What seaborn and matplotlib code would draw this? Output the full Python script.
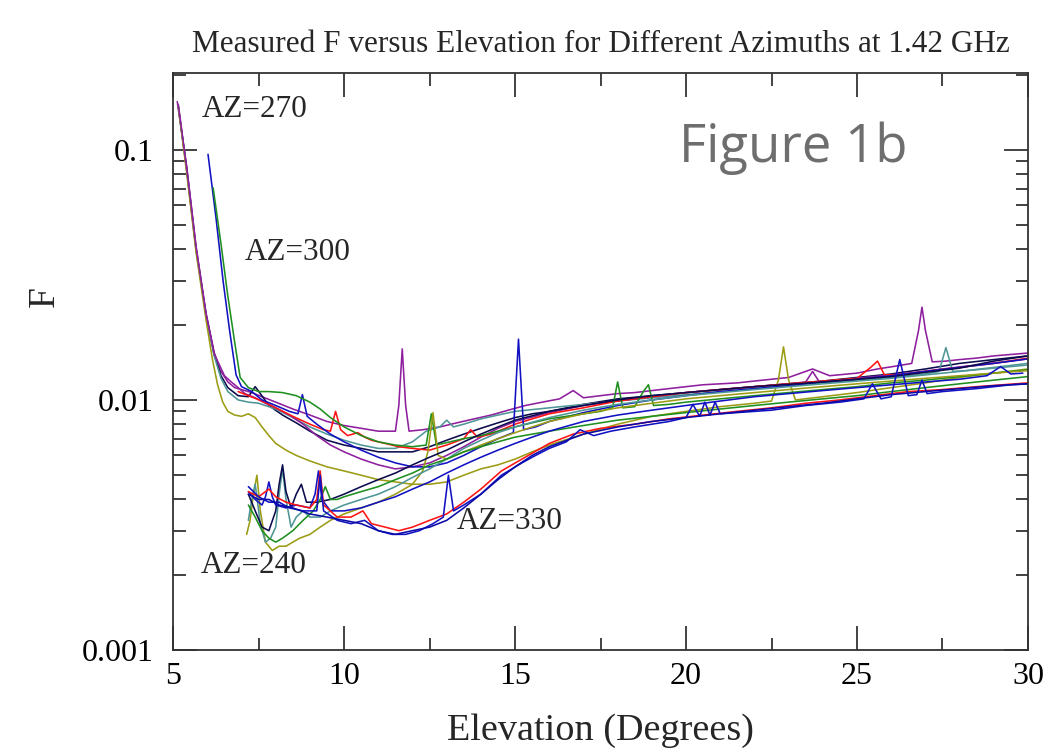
import pandas as pd
import numpy as np

import seaborn as sns
import matplotlib.pyplot as plt
from matplotlib.ticker import MultipleLocator, FuncFormatter, LogLocator

# ---- data (elevation in degrees, F) ----
# AZ=270 family (steep start near 5 deg)
purple_a_x = [5.12, 5.4, 5.67, 5.96, 6.2, 6.37, 6.6, 6.8, 7.0, 7.3, 7.6, 8.0, 8.5, 9.0, 9.5, 10.0, 10.5, 11.0, 11.5,
              11.6, 11.7, 11.8, 11.9, 12.3, 12.8, 13.3, 13.8, 14.3, 14.8, 15.3, 15.8, 16.3, 16.7, 17.0, 17.5, 18.0,
              18.5, 19.0, 19.5, 20.0, 20.5, 21.0, 21.5, 22.0, 22.5, 23.0, 23.7, 24.2, 25.0, 25.6, 26.2, 26.6, 26.8,
              26.9, 27.0, 27.2, 27.6, 28.0, 28.5, 29.0, 29.5, 30.0]
purple_a_f = [0.156, 0.085, 0.041, 0.0223, 0.0155, 0.0132, 0.0118, 0.0112, 0.0110, 0.0107, 0.0103, 0.0098, 0.0092,
              0.0087, 0.0082, 0.0079, 0.0077, 0.0075, 0.0075, 0.0095, 0.016, 0.0095, 0.0075, 0.0076, 0.0078, 0.0081,
              0.0084, 0.0087, 0.0091, 0.0095, 0.0098, 0.0101, 0.0109, 0.0102, 0.0104, 0.0106, 0.0107, 0.0109,
              0.0111, 0.0113, 0.0115, 0.0116, 0.0117, 0.0119, 0.0121, 0.0123, 0.0133, 0.0125, 0.0128, 0.0133,
              0.0137, 0.0140, 0.019, 0.0235, 0.019, 0.0142, 0.0143, 0.0145, 0.0147, 0.0150, 0.0152, 0.0154]

navy_a_x = [5.15, 5.4, 5.67, 5.96, 6.2, 6.4, 6.6, 6.9, 7.2, 7.4, 7.55, 7.8, 8.2, 8.6, 9.0, 9.5, 10.0, 10.5, 11.0,
            11.5, 12.0, 12.5, 13.0, 13.5, 14.0, 14.5, 15.0, 15.5, 16.0, 17.0, 18.0, 19.0, 20.0, 21.0, 22.0, 23.0,
            24.0, 25.0, 26.0, 27.0, 28.0, 29.0, 30.0]
navy_a_f = [0.15, 0.083, 0.04, 0.022, 0.0152, 0.0125, 0.0112, 0.0104, 0.0103, 0.0113, 0.0106, 0.0095, 0.0087,
            0.0081, 0.0075, 0.0069, 0.0066, 0.0064, 0.0062, 0.0062, 0.0062, 0.0065, 0.0069, 0.0073, 0.0077, 0.0081,
            0.0085, 0.0088, 0.0090, 0.0096, 0.0101, 0.0104, 0.0107, 0.0110, 0.0113, 0.0116, 0.0119, 0.0123,
            0.0127, 0.0133, 0.0140, 0.0145, 0.0150]

teal_a_x = [5.15, 5.4, 5.67, 5.96, 6.2, 6.4, 6.6, 6.9, 7.2, 7.5, 8.0, 8.5, 9.0, 9.5, 10.0, 10.5, 11.0, 11.5, 12.0,
            12.4, 12.8, 13.0, 13.2, 13.5, 14.0, 14.5, 15.0, 16.0, 17.0, 18.0, 19.0, 20.0, 21.0, 22.0, 23.0, 24.0,
            25.0, 26.0, 27.0, 27.4, 27.6, 27.8, 28.2, 29.0, 30.0]
teal_a_f = [0.15, 0.082, 0.04, 0.0218, 0.015, 0.0122, 0.0108, 0.0100, 0.0098, 0.0097, 0.0092, 0.0085, 0.0078,
            0.0073, 0.0069, 0.0066, 0.0064, 0.0064, 0.0068, 0.0075, 0.0078, 0.0083, 0.0078, 0.0080, 0.0084, 0.0087,
            0.0090, 0.0093, 0.0096, 0.0099, 0.0102, 0.0105, 0.0108, 0.0111, 0.0114, 0.0117, 0.0120, 0.0123,
            0.0127, 0.0130, 0.0162, 0.0130, 0.0131, 0.0134, 0.0138]

olive_a_x = [5.15, 5.4, 5.67, 5.96, 6.15, 6.3, 6.45, 6.6, 6.8, 7.0, 7.2, 7.4, 7.6, 7.8, 8.0, 8.3, 8.6, 9.0, 9.5,
             10.0, 10.5, 11.0, 11.5, 12.0, 12.5, 13.0, 13.5, 14.0, 14.5, 15.0, 15.5, 16.0, 17.0, 18.0, 19.0, 20.0,
             21.0, 22.0, 22.5, 22.7, 22.85, 23.0, 23.2, 24.0, 25.0, 26.0, 27.0, 28.0, 29.0, 30.0]
olive_a_f = [0.15, 0.08, 0.039, 0.021, 0.0145, 0.0115, 0.0098, 0.0090, 0.0087, 0.0086, 0.0088, 0.0085, 0.0078,
             0.0072, 0.0067, 0.0063, 0.0060, 0.0057, 0.0054, 0.0052, 0.0050, 0.0048, 0.0047, 0.0046, 0.0046,
             0.0047, 0.0050, 0.0053, 0.0055, 0.0058, 0.0062, 0.0066, 0.0073, 0.0080, 0.0086, 0.0090, 0.0094,
             0.0097, 0.0099, 0.0120, 0.0163, 0.0120, 0.0100, 0.0103, 0.0107, 0.0112, 0.0117, 0.0123, 0.0128, 0.0133]

purple_b_x = [5.15, 5.4, 5.67, 5.96, 6.2, 6.5, 6.7, 6.9, 7.1, 7.4, 7.7, 8.0, 8.4, 8.8, 9.2, 9.6, 10.0, 10.5, 11.0,
              11.5, 12.0, 12.5, 13.0, 13.5, 14.0, 14.5, 15.0, 16.0, 17.0, 18.0, 19.0, 20.0, 21.0, 22.0, 23.0, 23.5,
              23.7, 23.9, 24.5, 25.5, 26.5, 27.5, 28.5, 29.5, 30.0]
purple_b_f = [0.152, 0.084, 0.041, 0.0222, 0.0153, 0.0125, 0.0118, 0.0112, 0.0106, 0.0102, 0.0097, 0.0093,
              0.0087, 0.0080, 0.0072, 0.0066, 0.0062, 0.0058, 0.0055, 0.0053, 0.0054, 0.0056, 0.0060, 0.0065,
              0.0071, 0.0077, 0.0082, 0.0089, 0.0095, 0.0099, 0.0103, 0.0107, 0.0110, 0.0113, 0.0116, 0.0118,
              0.0130, 0.0118, 0.0120, 0.0124, 0.0128, 0.0133, 0.0138, 0.0143, 0.0146]

red_a_x = [6.9, 7.2, 7.6, 8.0, 8.5, 9.0, 9.4, 9.6, 9.75, 9.9, 10.1, 10.4, 10.6, 10.8, 11.2, 11.6, 12.0, 12.5, 13.0,
           13.5, 13.7, 13.9, 14.3, 15.0, 15.5, 16.0, 17.0, 18.0, 19.0, 20.0, 21.0, 22.0, 23.0, 24.0, 25.0, 25.4,
           25.6, 25.8, 26.2, 27.0, 28.0, 29.0, 30.0]
red_a_f = [0.0108, 0.0104, 0.0099, 0.0093, 0.0086, 0.0080, 0.0076, 0.0075, 0.0090, 0.0076, 0.0072, 0.0074, 0.0071,
           0.0069, 0.0067, 0.0065, 0.0064, 0.0063, 0.0066, 0.0070, 0.0076, 0.0071, 0.0073, 0.0080, 0.0084, 0.0088,
           0.0093, 0.0099, 0.0103, 0.0107, 0.0110, 0.0113, 0.0116, 0.0119, 0.0122, 0.0135, 0.0143, 0.0126,
           0.0126, 0.0130, 0.0135, 0.0140, 0.0147]

# AZ=300 family
blue_a_x = [6.02, 6.25, 6.46, 6.65, 6.84, 7.0, 7.3, 7.6, 8.0, 8.4, 8.65, 8.78, 8.92, 9.2, 9.6, 10.0, 10.5, 11.0,
            11.5, 12.0, 12.5, 13.0, 13.5, 14.0, 14.5, 14.95, 15.1, 15.25, 15.6, 16.0, 17.0, 18.0, 19.0, 20.0, 21.0,
            22.0, 23.0, 24.0, 25.0, 26.0, 27.0, 28.0, 29.0, 30.0]
blue_a_f = [0.096, 0.054, 0.030, 0.019, 0.0126, 0.0113, 0.0108, 0.0100, 0.0095, 0.0090, 0.0088, 0.0105, 0.0086,
            0.0080, 0.0073, 0.0068, 0.0063, 0.0059, 0.0056, 0.0054, 0.0054, 0.0056, 0.0060, 0.0065, 0.0070, 0.0074,
            0.0175, 0.0076, 0.0078, 0.0082, 0.0089, 0.0095, 0.0100, 0.0104, 0.0108, 0.0111, 0.0114, 0.0118,
            0.0121, 0.0125, 0.0130, 0.0135, 0.0140, 0.0146]

green_a_x = [6.17, 6.4, 6.6, 6.8, 6.96, 7.2, 7.5, 7.8, 8.2, 8.6, 9.0, 9.3, 9.6, 10.0, 10.5, 11.0, 11.5, 12.0, 12.4,
             12.55, 12.7, 12.9, 13.5, 14.0, 14.5, 15.0, 15.5, 16.0, 16.5, 17.0, 17.5, 17.85, 18.0, 18.15, 18.5,
             18.75, 18.9, 19.05, 19.5, 20.0, 21.0, 22.0, 23.0, 24.0, 25.0, 26.0, 27.0, 28.0, 29.0, 30.0]
green_a_f = [0.0705, 0.042, 0.026, 0.017, 0.0123, 0.0112, 0.0108, 0.0108, 0.0107, 0.0104, 0.0098, 0.0092, 0.0085,
             0.0078, 0.0072, 0.0068, 0.0066, 0.0065, 0.0066, 0.0088, 0.0066, 0.0067, 0.0070, 0.0072, 0.0075,
             0.0078, 0.0081, 0.0084, 0.0086, 0.0088, 0.0090, 0.0093, 0.0118, 0.0093, 0.0094, 0.0108, 0.0115,
             0.0095, 0.0096, 0.0098, 0.0101, 0.0104, 0.0107, 0.0110, 0.0113, 0.0117, 0.0120, 0.0124, 0.0128, 0.0132]

# AZ=240 family (starts near 7 deg, low and spiky)
olive_b_x = [7.15, 7.25, 7.35, 7.45, 7.55, 7.7, 7.9, 8.1, 8.3, 8.5, 8.7, 9.0, 9.3, 9.6, 10.0, 10.5, 11.0, 11.5,
             12.0, 12.3, 12.45, 12.6, 12.75, 13.0, 13.5, 14.0, 14.5, 15.0, 15.5, 16.0, 17.0, 18.0, 19.0, 20.0, 21.0,
             22.0, 23.0, 24.0, 25.0, 26.0, 27.0, 28.0, 29.0, 30.0]
olive_b_f = [0.0029, 0.0033, 0.0042, 0.0050, 0.0036, 0.0027, 0.0025, 0.0026, 0.0026, 0.0027, 0.0028, 0.0029,
             0.0031, 0.0033, 0.0035, 0.0037, 0.0039, 0.0042, 0.0046, 0.0052, 0.0062, 0.0089, 0.0060, 0.0058,
             0.0062, 0.0066, 0.0070, 0.0074, 0.0078, 0.0082, 0.0088, 0.0093, 0.0097, 0.0101, 0.0104, 0.0107,
             0.0110, 0.0113, 0.0116, 0.0119, 0.0122, 0.0125, 0.0128, 0.0131]

teal_b_x = [7.2, 7.3, 7.4, 7.55, 7.7, 7.85, 8.0, 8.1, 8.2, 8.3, 8.45, 8.6, 8.8, 9.0, 9.3, 9.6, 10.0, 10.5, 11.0,
            11.5, 12.0, 12.5, 13.0, 13.5, 14.0, 14.5, 15.0, 16.0, 17.0, 18.0, 19.0, 20.0, 22.0, 24.0, 26.0, 28.0, 30.0]
teal_b_f = [0.0033, 0.0040, 0.0046, 0.0032, 0.0027, 0.0028, 0.0031, 0.0042, 0.0053, 0.0040, 0.0031, 0.0034,
            0.0036, 0.0034, 0.0034, 0.0036, 0.0038, 0.0040, 0.0042, 0.0045, 0.0049, 0.0053, 0.0058, 0.0064, 0.0069,
            0.0074, 0.0078, 0.0085, 0.0091, 0.0096, 0.0100, 0.0104, 0.0110, 0.0116, 0.0122, 0.0130, 0.0140]

navy_b_x = [7.2, 7.4, 7.6, 7.8, 8.0, 8.1, 8.2, 8.3, 8.45, 8.6, 8.75, 8.9, 9.2, 9.6, 10.0, 10.5, 11.0, 11.5, 12.0,
            12.5, 13.0, 13.5, 14.0, 14.5, 15.0, 16.0, 17.0, 18.0, 19.0, 20.0, 22.0, 24.0, 26.0, 28.0, 29.0, 30.0]
navy_b_f = [0.0042, 0.0036, 0.0031, 0.0030, 0.0036, 0.0046, 0.0055, 0.0043, 0.0037, 0.0042, 0.0046, 0.0039,
            0.0039, 0.0040, 0.0042, 0.0045, 0.0048, 0.0051, 0.0055, 0.0059, 0.0063, 0.0068, 0.0073, 0.0078, 0.0083,
            0.0090, 0.0095, 0.0100, 0.0104, 0.0107, 0.0113, 0.0118, 0.0124, 0.0134, 0.0143, 0.0150]

green_b_x = [7.2, 7.4, 7.6, 7.8, 8.0, 8.2, 8.5, 8.8, 9.1, 9.3, 9.45, 9.6, 9.8, 10.0, 10.5, 11.0, 11.5, 12.0, 12.5,
             13.0, 13.5, 14.0, 14.5, 15.0, 16.0, 17.0, 18.0, 19.0, 20.0, 21.0, 22.0, 23.0, 24.0, 25.0, 26.0, 27.0,
             28.0, 29.0, 30.0]
green_b_f = [0.0038, 0.0034, 0.0030, 0.0028, 0.0027, 0.0028, 0.0030, 0.0033, 0.0036, 0.0040, 0.0045, 0.0040,
             0.0040, 0.0041, 0.0043, 0.0045, 0.0048, 0.0051, 0.0055, 0.0058, 0.0062, 0.0065, 0.0068, 0.0071,
             0.0075, 0.0079, 0.0083, 0.0086, 0.0089, 0.0092, 0.0095, 0.0098, 0.0101, 0.0104, 0.0108, 0.0112,
             0.0116, 0.0120, 0.0124]

blue_b_x = [7.2, 7.4, 7.6, 7.7, 7.8, 7.9, 8.0, 8.3, 8.6, 9.0, 9.15, 9.25, 9.35, 9.6, 10.0, 10.5, 11.0, 11.5, 12.0,
            12.5, 13.0, 13.5, 14.0, 14.5, 15.0, 15.5, 16.0, 17.0, 18.0, 19.0, 20.0, 21.0, 22.0, 23.0, 24.0, 25.0,
            26.0, 27.0, 28.0, 28.8, 29.2, 29.5, 29.85]
blue_b_f = [0.0043, 0.0040, 0.0038, 0.0041, 0.0047, 0.0041, 0.0038, 0.0037, 0.0038, 0.0037, 0.0042, 0.0052, 0.0040,
            0.0036, 0.0036, 0.0037, 0.0039, 0.0041, 0.0044, 0.0047, 0.0051, 0.0055, 0.0059, 0.0063, 0.0067, 0.0071,
            0.0075, 0.0082, 0.0087, 0.0091, 0.0095, 0.0099, 0.0103, 0.0106, 0.0109, 0.0112, 0.0115, 0.0118,
            0.0121, 0.0125, 0.0136, 0.0127, 0.0128]

# AZ=330 family (lowest curves)
red_b_x = [7.2, 7.5, 7.8, 8.0, 8.3, 8.6, 9.0, 9.2, 9.3, 9.4, 9.8, 10.2, 10.55, 10.8, 11.2, 11.6, 12.0, 12.5, 13.0,
           13.5, 14.0, 14.6, 15.2, 16.0, 16.7, 17.5, 18.5, 19.5, 20.5, 21.5, 22.5, 23.5, 24.5, 25.5, 26.5, 27.5,
           28.5, 30.0]
red_b_f = [0.0043, 0.0041, 0.0044, 0.0041, 0.0039, 0.0038, 0.0037, 0.0040, 0.0052, 0.0038, 0.0034, 0.0034, 0.0036,
           0.0032, 0.0031, 0.0030, 0.0031, 0.0033, 0.0035, 0.0039, 0.0044, 0.0052, 0.0058, 0.0067, 0.0073, 0.0077,
           0.0080, 0.0084, 0.0087, 0.0090, 0.0093, 0.0097, 0.0100, 0.0104, 0.0108, 0.0110, 0.0113, 0.0117]

blue_c_x = [7.2, 7.5, 7.8, 8.1, 8.4, 8.8, 9.2, 9.3, 9.4, 9.8, 10.2, 10.6, 11.0, 11.4, 11.8, 12.2, 12.6, 12.9, 13.05,
            13.2, 13.5, 14.0, 14.6, 15.2, 15.6, 16.0, 16.5, 16.9, 17.3, 17.8, 18.5, 19.5, 20.0, 20.2, 20.4, 20.55,
            20.7, 20.85, 21.0, 21.5, 22.5, 23.5, 24.5, 25.2, 25.45, 25.7, 26.0, 26.25, 26.5, 26.75, 26.9, 27.05,
            27.5, 28.5, 29.5, 30.0]
blue_c_f = [0.0045, 0.0041, 0.0039, 0.0039, 0.0037, 0.0036, 0.0036, 0.0050, 0.0036, 0.0033, 0.0032, 0.0033, 0.0030,
            0.0029, 0.0029, 0.0030, 0.0032, 0.0034, 0.0050, 0.0036, 0.0038, 0.0042, 0.0050, 0.0056, 0.0060, 0.0064,
            0.0068, 0.0076, 0.0072, 0.0075, 0.0078, 0.0082, 0.0085, 0.0096, 0.0086, 0.0098, 0.0087, 0.0098, 0.0088,
            0.0089, 0.0091, 0.0095, 0.0098, 0.0101, 0.0116, 0.0101, 0.0103, 0.0145, 0.0104, 0.0105, 0.0120, 0.0106,
            0.0108, 0.0111, 0.0115, 0.0116]

blue_d_x = [7.2, 7.5, 7.8, 8.1, 8.5, 9.0, 9.5, 10.0, 10.5, 11.0, 11.5, 12.0, 12.5, 13.0, 13.5, 14.0, 14.5, 15.0,
            15.5, 16.0, 17.0, 18.0, 19.0, 20.0, 21.0, 22.0, 23.0, 24.0, 25.0, 26.0, 27.0, 28.0, 29.0, 30.0]
blue_d_f = [0.0042, 0.0040, 0.0040, 0.0038, 0.0037, 0.0035, 0.0034, 0.0033, 0.0032, 0.0030, 0.0029, 0.0030,
            0.0031, 0.0033, 0.0037, 0.0042, 0.0048, 0.0054, 0.0060, 0.0065, 0.0073, 0.0078, 0.0082, 0.0085, 0.0088,
            0.0091, 0.0094, 0.0097, 0.0101, 0.0105, 0.0108, 0.0111, 0.0114, 0.0116]

curves = {
    'purple_a': (purple_a_x, purple_a_f), 'navy_a': (navy_a_x, navy_a_f),
    'teal_a': (teal_a_x, teal_a_f), 'olive_a': (olive_a_x, olive_a_f),
    'purple_b': (purple_b_x, purple_b_f), 'red_a': (red_a_x, red_a_f),
    'blue_a': (blue_a_x, blue_a_f), 'green_a': (green_a_x, green_a_f),
    'olive_b': (olive_b_x, olive_b_f), 'teal_b': (teal_b_x, teal_b_f),
    'navy_b': (navy_b_x, navy_b_f), 'green_b': (green_b_x, green_b_f),
    'blue_b': (blue_b_x, blue_b_f), 'red_b': (red_b_x, red_b_f),
    'blue_c': (blue_c_x, blue_c_f), 'blue_d': (blue_d_x, blue_d_f),
}

purple, navy, teal, olive = '#8e1f9e', '#0b0b4d', '#4f9696', '#9c9c14'
blue, green, red = '#1212c2', '#1f8f1f', '#ff1414'
palette = {'purple_a': purple, 'navy_a': navy, 'teal_a': teal, 'olive_a': olive,
           'purple_b': purple, 'red_a': red, 'blue_a': blue, 'green_a': green,
           'olive_b': olive, 'teal_b': teal, 'navy_b': navy, 'green_b': green,
           'blue_b': blue, 'red_b': red, 'blue_c': blue, 'blue_d': '#0a0aa8'}

rows = []
for name, (xs, fs) in curves.items():
    for x, f in zip(xs, fs):
        rows.append((name, x, f))
df = pd.DataFrame(rows, columns=['curve', 'Elevation', 'F'])

sns.set_style('ticks')
plt.rcParams['font.family'] = ['Liberation Serif', 'DejaVu Serif']

fig = plt.figure(figsize=(10.43, 7.51), dpi=100)
ax = fig.add_axes([0.166, 0.1345, 0.8196, 0.7683])

sns.lineplot(data=df, x='Elevation', y='F', hue='curve', palette=palette,
             estimator=None, sort=False, legend=False, linewidth=1.15, ax=ax)

ax.set_yscale('log')
ax.set_xlim(5, 30)
ax.set_ylim(0.001, 0.203)

ax.xaxis.set_major_locator(MultipleLocator(5))
ax.xaxis.set_minor_locator(MultipleLocator(2.5))
ax.yaxis.set_major_locator(LogLocator(base=10, numticks=10))
ax.yaxis.set_minor_locator(LogLocator(base=10, subs=np.arange(2, 10), numticks=20))
ax.yaxis.set_major_formatter(FuncFormatter(lambda v, p: '{:g}'.format(v)))
ax.tick_params(which='both', direction='in', top=True, right=True, width=1.2, colors='#222222',
               labelsize=23, labelcolor='black')
ax.tick_params(which='major', length=17)
ax.tick_params(which='minor', length=9)
ax.tick_params(axis='x', pad=9)
ax.tick_params(axis='y', pad=14)
for s in ax.spines.values():
    s.set_linewidth(1.3)
    s.set_color('#333333')

ax.set_xlabel('Elevation (Degrees)', fontsize=27.5, labelpad=16)
ax.set_ylabel('F', fontsize=27)
ax.yaxis.set_label_coords(-0.13, 0.612)
ax.set_title('Measured F versus Elevation for Different Azimuths at 1.42 GHz', fontsize=22.5, pad=15)

ax.text(5.85, 0.145, 'AZ=270', fontsize=22.5, va='center', ha='left')
ax.text(7.08, 0.039, 'AZ=300', fontsize=22.5, va='center', ha='left')
ax.text(13.3, 0.00325, 'AZ=330', fontsize=22.5, va='center', ha='left')
ax.text(5.8, 0.00217, 'AZ=240', fontsize=22.5, va='center', ha='left')
ax.text(0.725, 0.87, 'Figure 1b', transform=ax.transAxes, fontsize=38, color='#6e6e6e',
        ha='center', va='center', family=['Open Sans', 'DejaVu Sans'])

fig.savefig('out.png', dpi=100)
